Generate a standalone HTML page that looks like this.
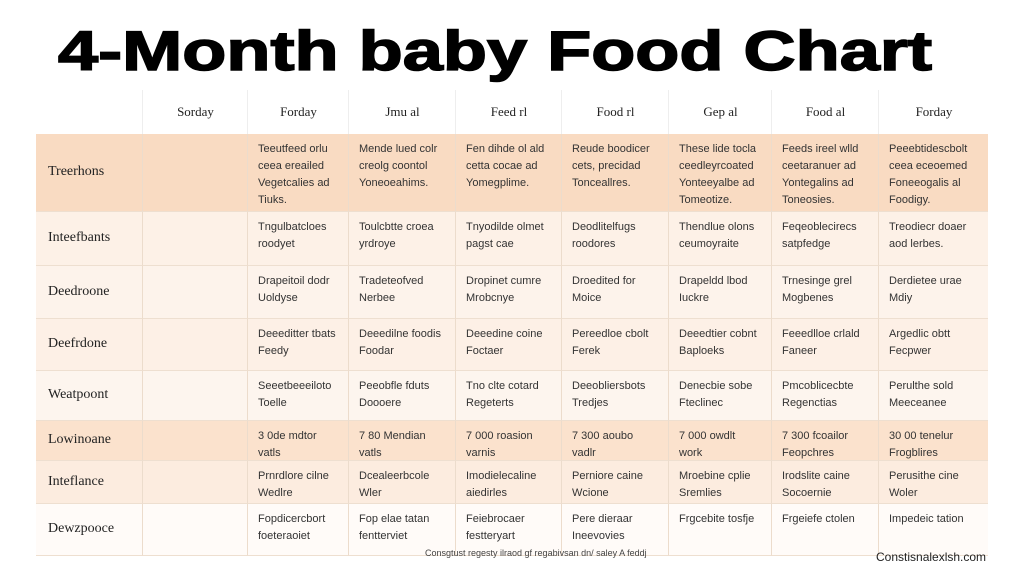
<!DOCTYPE html>
<html><head><meta charset="utf-8"><style>
body{margin:0;width:1024px;height:576px;background:#fff;overflow:hidden;font-family:"Liberation Sans",sans-serif;position:relative}
.c{position:absolute;box-sizing:border-box;font-size:11px;line-height:17px;color:#333;padding:7px 0 0 10px;border-left:1px solid #ecdccc;border-bottom:1px solid #eedfd0}
.h{position:absolute;top:90px;height:44px;line-height:44px;text-align:center;font-family:"Liberation Serif",serif;font-size:13px;color:#222;border-left:1px solid #eee}
.r{position:absolute;left:36px;width:952px;border-bottom:1px solid #eedfd0;box-sizing:border-box}
.l{position:absolute;left:48px;font-family:"Liberation Serif",serif;font-size:14px;color:#222}
</style></head><body>
<svg style="position:absolute;left:0;top:0" width="1024" height="90"><text x="58" y="70" textLength="874" lengthAdjust="spacingAndGlyphs" font-family="Liberation Sans" font-weight="bold" font-size="56" fill="#000" stroke="#000" stroke-width="1.5">4-Month baby Food Chart</text></svg>
<div id="t"></div>
<div style="position:absolute;left:425px;top:548px;font-size:9px;color:#444">Consgtust regesty ilraod gf regabivsan dn/ saley A feddj</div>
<div style="position:absolute;left:876px;top:550px;font-size:12px;color:#222">Constisnalexlsh.com</div>
<script>
const cols=[36,142,247,348,455,561,668,771,878,988];
const heads=["Sorday","Forday","Jmu al","Feed rl","Food rl","Gep al","Food al","Forday"];
const rowsY=[134,212,266,319,371,421,461,504,556];
const rowBg=["#f9dbc2","#fdf1e7","#fdf3eb","#fdf0e6","#fdf5ee","#fbe2cd","#fcecdf","#fffbf8"];
const labels=["Treerhons","Inteefbants","Deedroone","Deefrdone","Weatpoont","Lowinoane","Inteflance","Dewzpooce"];
const cells=[
["Teeutfeed orlu<br>ceea ereailed<br>Vegetcalies ad<br>Tiuks.","Mende lued colr<br>creolg coontol<br>Yoneoeahims.","Fen dihde ol ald<br>cetta cocae ad<br>Yomegplime.","Reude boodicer<br>cets, precidad<br>Tonceallres.","These lide tocla<br>ceedleyrcoated<br>Yonteeyalbe ad<br>Tomeotize.","Feeds ireel wlld<br>ceetaranuer ad<br>Yontegalins ad<br>Toneosies.","Peeebtidescbolt<br>ceea eceoemed<br>Foneeogalis al<br>Foodigy."],
["Tngulbatcloes<br>roodyet","Toulcbtte croea<br>yrdroye","Tnyodilde olmet<br>pagst cae","Deodlitelfugs<br>roodores","Thendlue olons<br>ceumoyraite","Feqeoblecirecs<br>satpfedge","Treodiecr doaer<br>aod lerbes."],
["Drapeitoil dodr<br>Uoldyse","Tradeteofved<br>Nerbee","Dropinet cumre<br>Mrobcnye","Droedited for<br>Moice","Drapeldd lbod<br>Iuckre","Trnesinge grel<br>Mogbenes","Derdietee urae<br>Mdiy"],
["Deeeditter tbats<br>Feedy","Deeedilne foodis<br>Foodar","Deeedine coine<br>Foctaer","Pereedloe cbolt<br>Ferek","Deeedtier cobnt<br>Baploeks","Feeedlloe crlald<br>Faneer","Argedlic obtt<br>Fecpwer"],
["Seeetbeeeiloto<br>Toelle","Peeobfle fduts<br>Doooere","Tno clte cotard<br>Regeterts","Deeobliersbots<br>Tredjes","Denecbie sobe<br>Fteclinec","Pmcoblicecbte<br>Regenctias","Perulthe sold<br>Meeceanee"],
["3 0de mdtor<br>vatls","7 80 Mendian<br>vatls","7 000 roasion<br>varnis","7 300 aoubo<br>vadlr","7 000 owdlt<br>work","7 300 fcoailor<br>Feopchres","30 00 tenelur<br>Frogblires"],
["Prnrdlore cilne<br>Wedlre","Dcealeerbcole<br>Wler","Imodielecaline<br>aiedirles","Perniore caine<br>Wcione","Mroebine cplie<br>Sremlies","Irodslite caine<br>Socoernie","Perusithe cine<br>Woler"],
["Fopdicercbort<br>foeteraoiet","Fop elae tatan<br>fentterviet","Feiebrocaer<br>festteryart","Pere dieraar<br>Ineevovies","Frgcebite tosfje","Frgeiefe ctolen","Impedeic tation"]
];
const t=document.getElementById('t');
for(let i=0;i<heads.length;i++){
 const h=document.createElement('div');h.className='h';
 
 
 h.style.left=cols[i+1]+'px';h.style.width=(cols[i+2]-cols[i+1])+'px';h.textContent=heads[i];t.appendChild(h);
}
for(let r=0;r<labels.length;r++){
 const y0=rowsY[r],y1=rowsY[r+1];
 const row=document.createElement('div');row.className='r';
 
 
 row.style.top=y0+'px';row.style.height=(y1-y0)+'px';row.style.background=rowBg[r];t.appendChild(row);
 const l=document.createElement('div');l.className='l';
 
 
 l.style.top=((y0+y1)/2-9)+'px';l.textContent=labels[r];t.appendChild(l);
 for(let c=0;c<8;c++){
  const d=document.createElement('div');d.className='c';
  
  
  d.style.left=cols[c+1]+'px';d.style.top=y0+'px';d.style.width=(cols[c+2]-cols[c+1])+'px';d.style.height=(y1-y0)+'px';
  d.innerHTML=c==0?'':cells[r][c-1];t.appendChild(d);
 }
}
</script>
</body></html>
